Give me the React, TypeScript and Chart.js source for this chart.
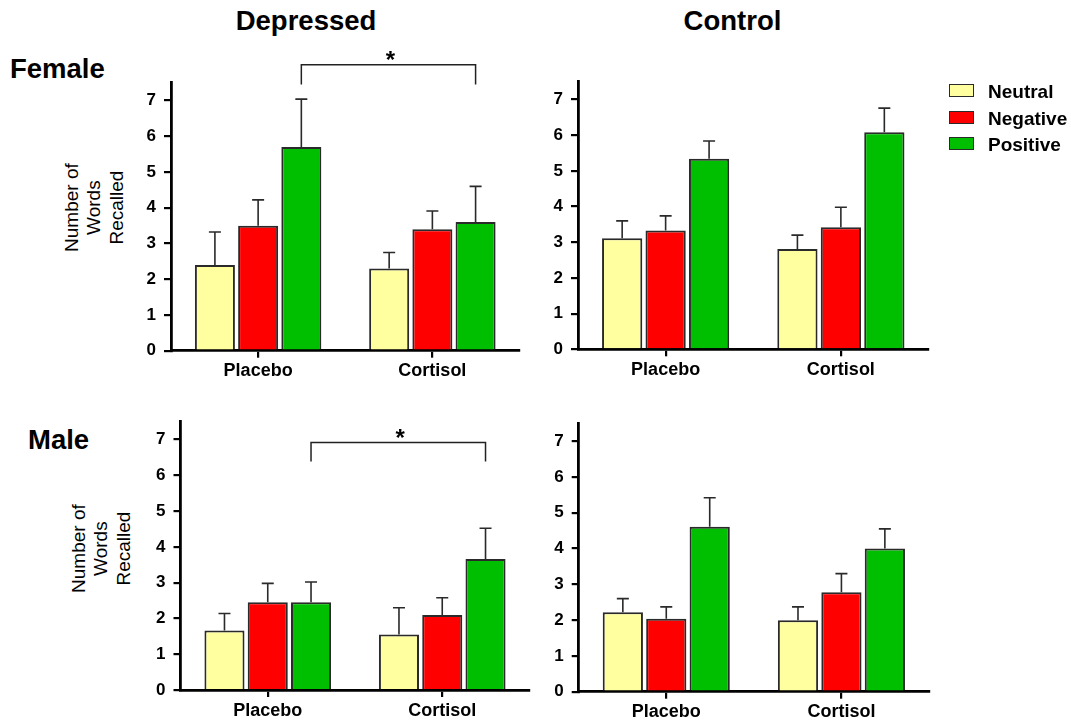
import React, { useEffect, useRef } from 'react';
import { Chart, registerables } from 'chart.js';

Chart.register(...registerables);

// ---------- data ----------
const categories = ['Placebo', 'Cortisol'];
const seriesNames = ['Neutral', 'Negative', 'Positive'];
const seriesColors = ['#FFFFA0', '#FF0000', '#00BF00'];
const yTickValues = [0, 1, 2, 3, 4, 5, 6, 7];
const yAxisMax = 7.5;
const yAxisTitle = ['Number of', 'Words', 'Recalled'];
const columnTitles = ['Depressed', 'Control'];
const rowTitles = ['Female', 'Male'];

// Female · Depressed (means and SEM)
const femDepNeutral = [2.4, 2.3];
const femDepNegative = [3.5, 3.4];
const femDepPositive = [5.7, 3.6];
const femDepNeutralErr = [0.92, 0.45];
const femDepNegativeErr = [0.72, 0.51];
const femDepPositiveErr = [1.34, 1.0];

// Female · Control
const femConNeutral = [3.11, 2.81];
const femConNegative = [3.33, 3.42];
const femConPositive = [5.34, 6.08];
const femConNeutralErr = [0.49, 0.39];
const femConNegativeErr = [0.41, 0.56];
const femConPositiveErr = [0.5, 0.68];

// Male · Depressed
const maleDepNeutral = [1.66, 1.55];
const maleDepNegative = [2.45, 2.1];
const maleDepPositive = [2.45, 3.66];
const maleDepNeutralErr = [0.48, 0.75];
const maleDepNegativeErr = [0.53, 0.48];
const maleDepPositiveErr = [0.57, 0.86];

// Male · Control
const maleConNeutral = [2.22, 2.0];
const maleConNegative = [2.04, 2.78];
const maleConPositive = [4.61, 4.0];
const maleConNeutralErr = [0.38, 0.37];
const maleConNegativeErr = [0.33, 0.52];
const maleConPositiveErr = [0.81, 0.55];

// significance brackets (Positive: Placebo vs Cortisol), in axis units
const femDepBracket = { level: 8.0, drop: 7.45, label: '*' };
const maleDepBracket = { level: 6.92, drop: 6.39, label: '*' };

// ---------- layout ----------
const FONT = "'Liberation Sans', Arial, Helvetica, sans-serif";

type Box = {
  left: number; top: number; width: number; height: number;
  axisX: number; plotRight: number; plotTop: number; zeroY: number; xAxisH: number;
};

const boxTL: Box = { left: 0, top: 30, width: 540, height: 365, axisX: 171, plotRight: 519.5, plotTop: 82.7, zeroY: 350.7, xAxisH: 35 };
const boxTR: Box = { left: 540, top: 30, width: 531, height: 365, axisX: 578, plotRight: 928.5, plotTop: 81.7, zeroY: 349.3, xAxisH: 35 };
const boxBL: Box = { left: 0, top: 400, width: 540, height: 323, axisX: 180.5, plotRight: 529.5, plotTop: 421.7, zeroY: 690, xAxisH: 33 };
const boxBR: Box = { left: 540, top: 400, width: 531, height: 323, axisX: 578.7, plotRight: 929, plotTop: 423.3, zeroY: 691.7, xAxisH: 31.3 };

type Bracket = { level: number; drop: number; label: string } | null;

function BarPanel({ box, means, errs, bracket }: { box: Box; means: number[][]; errs: number[][]; bracket: Bracket }) {
  const ref = useRef<HTMLCanvasElement>(null);
  useEffect(() => {
    const canvas = ref.current as HTMLCanvasElement;
    const yW = box.axisX - box.left;
    const padTop = box.plotTop - box.top;
    const padRight = box.left + box.width - box.plotRight;
    const padBottom = Math.max(0, box.top + box.height - box.zeroY - box.xAxisH);

    const errorBars = {
      id: 'errorBars',
      afterDatasetsDraw(chart: any) {
        const { ctx } = chart;
        const ys = chart.scales.y;
        means.forEach((m, di) => {
          const meta = chart.getDatasetMeta(di);
          meta.data.forEach((el: any, i: number) => {
            const top = ys.getPixelForValue(m[i] + errs[di][i]);
            ctx.save();
            ctx.strokeStyle = '#2a2a2a';
            ctx.lineWidth = 1.6;
            ctx.beginPath();
            ctx.moveTo(el.x, el.y);
            ctx.lineTo(el.x, top);
            ctx.moveTo(el.x - 6, top);
            ctx.lineTo(el.x + 6, top);
            ctx.stroke();
            ctx.restore();
          });
        });
      },
    };

    const sigBracket = {
      id: 'sigBracket',
      afterDraw(chart: any) {
        if (!bracket) return;
        const { ctx } = chart;
        const ys = chart.scales.y;
        const meta = chart.getDatasetMeta(2);
        const x1 = meta.data[0].x;
        const x2 = meta.data[1].x;
        const yl = ys.getPixelForValue(bracket.level);
        const yd = ys.getPixelForValue(bracket.drop);
        ctx.save();
        ctx.strokeStyle = '#222';
        ctx.lineWidth = 1.5;
        ctx.beginPath();
        ctx.moveTo(x1, yd);
        ctx.lineTo(x1, yl);
        ctx.lineTo(x2, yl);
        ctx.lineTo(x2, yd);
        ctx.stroke();
        ctx.fillStyle = '#000';
        ctx.font = `bold 24px ${FONT}`;
        ctx.textAlign = 'center';
        ctx.textBaseline = 'alphabetic';
        ctx.fillText(bracket.label, (x1 + x2) / 2 + 2, yl + 3.5);
        ctx.restore();
      },
    };

    const chart = new Chart(canvas, {
      type: 'bar',
      data: {
        labels: categories,
        datasets: seriesNames.map((name, i) => ({
          label: name,
          data: means[i],
          backgroundColor: seriesColors[i],
          borderColor: '#2a2a2a',
          borderWidth: 2,
          barPercentage: 0.926,
          categoryPercentage: 0.744,
        })),
      },
      options: {
        responsive: false,
        maintainAspectRatio: false,
        animation: false,
        devicePixelRatio: 1,
        layout: { padding: { left: 0, right: padRight, top: padTop, bottom: padBottom } },
        plugins: { legend: { display: false }, tooltip: { enabled: false }, title: { display: false } },
        scales: {
          x: {
            offset: true,
            grid: { display: true, drawOnChartArea: false, drawTicks: true, tickLength: 7, color: '#000', lineWidth: 2.2, offset: false },
            border: { display: true, color: '#000', width: 2.8 },
            ticks: { color: '#000', font: { family: FONT, size: 18, weight: 'bold' }, padding: 3, maxRotation: 0 },
            afterFit: (s: any) => { s.height = box.xAxisH; },
          },
          y: {
            min: 0,
            max: yAxisMax,
            ticks: { stepSize: 1, color: '#000', font: { family: FONT, size: 17, weight: 'bold' }, padding: 8 },
            afterBuildTicks: (s: any) => { s.ticks = yTickValues.map((v) => ({ value: v })); },
            grid: { display: true, drawOnChartArea: false, drawTicks: true, tickLength: 7, color: '#000', lineWidth: 2.2 },
            border: { display: true, color: '#000', width: 2.8 },
            afterFit: (s: any) => { s.width = yW; },
          },
        },
      },
      plugins: [errorBars, sigBracket],
    } as any);
    return () => chart.destroy();
  }, []);
  return (
    <canvas
      ref={ref}
      width={box.width}
      height={box.height}
      style={{ position: 'absolute', left: box.left, top: box.top, width: box.width, height: box.height }}
    />
  );
}

function Label({ text, x, y, size, weight, align }: { text: string; x: number; y: number; size: number; weight: string; align: 'left' | 'center' }) {
  return (
    <div
      style={{
        position: 'absolute',
        left: x,
        top: y,
        transform: align === 'center' ? 'translate(-50%, -50%)' : 'translate(0, -50%)',
        fontFamily: FONT,
        fontSize: size,
        fontWeight: weight as any,
        lineHeight: 1,
        whiteSpace: 'nowrap',
        color: '#000',
      }}
    >
      {text}
    </div>
  );
}

function YTitle({ cx, cy }: { cx: number; cy: number }) {
  const w = 200;
  const lh = 22.4;
  const h = lh * yAxisTitle.length;
  return (
    <div
      style={{
        position: 'absolute',
        left: cx - w / 2,
        top: cy - h / 2,
        width: w,
        height: h,
        transform: 'rotate(-90deg)',
        transformOrigin: 'center center',
        textAlign: 'center',
        fontFamily: FONT,
        fontSize: 19,
        lineHeight: `${lh}px`,
        color: '#000',
      }}
    >
      {yAxisTitle.map((t) => (
        <div key={t}>{t}</div>
      ))}
    </div>
  );
}

function Legend() {
  const ys = [90.7, 117.3, 143.3];
  return (
    <>
      {seriesNames.map((n, i) => (
        <React.Fragment key={n}>
          <div
            style={{
              position: 'absolute',
              left: 948.5,
              top: ys[i] - 6.5,
              width: 25,
              height: 13,
              boxSizing: 'border-box',
              border: '1.6px solid #2a2a2a',
              background: seriesColors[i],
            }}
          />
          <Label text={n} x={988} y={ys[i] + 0.5} size={19} weight="bold" align="left" />
        </React.Fragment>
      ))}
    </>
  );
}

export default function App() {
  return (
    <div style={{ position: 'absolute', left: 0, top: 0, width: 1071, height: 723, background: '#fff', overflow: 'hidden' }}>
      <Label text={columnTitles[0]} x={306} y={21} size={27.5} weight="bold" align="center" />
      <Label text={columnTitles[1]} x={732.5} y={21} size={27.5} weight="bold" align="center" />
      <Label text={rowTitles[0]} x={10} y={69} size={27.5} weight="bold" align="left" />
      <Label text={rowTitles[1]} x={28} y={440} size={27.5} weight="bold" align="left" />
      <YTitle cx={94.5} cy={208} />
      <YTitle cx={102} cy={548.3} />
      <BarPanel
        box={boxTL}
        means={[femDepNeutral, femDepNegative, femDepPositive]}
        errs={[femDepNeutralErr, femDepNegativeErr, femDepPositiveErr]}
        bracket={femDepBracket}
      />
      <BarPanel
        box={boxTR}
        means={[femConNeutral, femConNegative, femConPositive]}
        errs={[femConNeutralErr, femConNegativeErr, femConPositiveErr]}
        bracket={null}
      />
      <BarPanel
        box={boxBL}
        means={[maleDepNeutral, maleDepNegative, maleDepPositive]}
        errs={[maleDepNeutralErr, maleDepNegativeErr, maleDepPositiveErr]}
        bracket={maleDepBracket}
      />
      <BarPanel
        box={boxBR}
        means={[maleConNeutral, maleConNegative, maleConPositive]}
        errs={[maleConNeutralErr, maleConNegativeErr, maleConPositiveErr]}
        bracket={null}
      />
      <Legend />
    </div>
  );
}
